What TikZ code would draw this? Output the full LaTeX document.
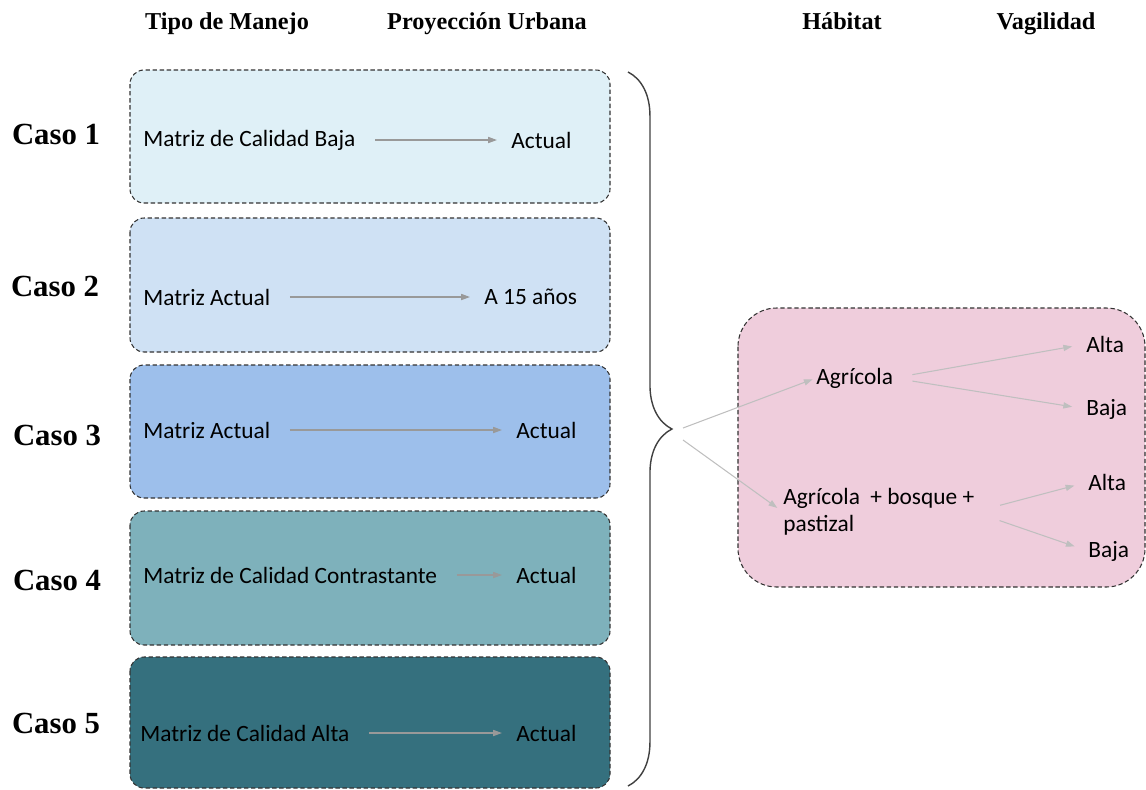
\documentclass[tikz,border=0pt]{standalone}
\usepackage{fontspec}
\setmainfont{Liberation Serif}
\newfontfamily\carlito{Carlito}
\usetikzlibrary{arrows.meta,decorations.pathreplacing}
\definecolor{caso1}{HTML}{DFF0F7}
\definecolor{caso2}{HTML}{CFE1F4}
\definecolor{caso3}{HTML}{9DBFEB}
\definecolor{caso4}{HTML}{7EB1BB}
\definecolor{caso5}{HTML}{35707E}
\definecolor{rosa}{HTML}{EFCDDC}
\begin{document}
\begin{tikzpicture}[x=0.02cm,y=-0.02cm,
    caja/.style={draw=black!80,dash pattern=on 2.5pt off 1.5pt,line width=0.6pt,rounded corners=8pt},
    titulo/.style={font=\bfseries\fontsize{13.8}{15}\selectfont,anchor=base},
    caso/.style={font=\bfseries\fontsize{17.5}{19}\selectfont,anchor=base},
    txt/.style={font=\carlito\fontsize{13.3}{15.5}\selectfont,inner sep=0pt,anchor=west},
    flecha/.style={draw=black!40,line width=0.6pt,-{Triangle[length=5pt,width=3.5pt]},shorten <=11pt,shorten >=8pt},
    flechab/.style={flecha,draw=black!25}]
  \useasboundingbox (0,0) rectangle (1146,789);
  % encabezados
  \node[titulo] (tm) at (227,29) {Tipo de Manejo};
  \node[titulo] (pu) at (487,29) {Proyección Urbana};
  \node[titulo] (hb) at (842,29) {Hábitat};
  \node[titulo] (vg) at (1046,29) {Vagilidad};
  % cajas de casos
  \draw[caja,fill=caso1] (130,70) rectangle (610,203);
  \draw[caja,fill=caso2] (130,218) rectangle (610,352);
  \draw[caja,fill=caso3] (130,365) rectangle (610,498);
  \draw[caja,fill=caso4] (130,511) rectangle (610,645);
  \draw[caja,fill=caso5] (130,657) rectangle (610,788);
  \node[caso] (c1) at (56,144) {Caso 1};
  \node[caso] (c2) at (55,296) {Caso 2};
  \node[caso] (c3) at (57,445) {Caso 3};
  \node[caso] (c4) at (57,590) {Caso 4};
  \node[caso] (c5) at (56,733) {Caso 5};
  \node[txt] (m1) at (143,140) {Matriz de Calidad Baja};
  \node[txt] (p1) at (511,140) {Actual};
  \node[txt] (m2) at (143,297) {Matriz Actual};
  \node[txt] (p2) at (484,297) {A 15 años};
  \node[txt] (m3) at (143,430) {Matriz Actual};
  \node[txt] (p3) at (516,430) {Actual};
  \node[txt] (m4) at (143,575) {Matriz de Calidad Contrastante};
  \node[txt] (p4) at (516,575) {Actual};
  \node[txt] (m5) at (140,733) {Matriz de Calidad Alta};
  \node[txt] (p5) at (516,733) {Actual};
  \foreach \i in {1,...,5}
    \draw[flecha] (m\i.east) -- (p\i.west);
  % llave
  \draw[decorate,decoration={brace,amplitude=25pt},black!75,line width=0.8pt] (628,72) -- (628,786);
  \coordinate (ll1) at (683,428);
  \coordinate (ll2) at (683,440);
  % habitat y vagilidad
  \draw[caja,fill=rosa,rounded corners=22pt] (738,308) rectangle (1145,587);
  \node[txt] (ag) at (816,378) {Agrícola};
  \node[txt,align=left] (abp) at (783,512) {Agrícola\ \ + bosque +\\pastizal};
  \node[txt] (al1) at (1086,344) {Alta};
  \node[txt] (ba1) at (1086,409) {Baja};
  \node[txt] (al2) at (1088,482) {Alta};
  \node[txt] (ba2) at (1088,551) {Baja};
  \draw[flechab,shorten <=0pt,shorten >=2pt] (ll1) -- (ag.west);
  \draw[flechab,shorten <=0pt,shorten >=4pt] (ll2) -- (abp.west);
  \draw[flechab] (ag.east) -- (al1.west);
  \draw[flechab] (ag.east) -- (ba1.west);
  \draw[flechab,shorten <=15pt] (abp.east) -- (al2.west);
  \draw[flechab,shorten <=15pt] (abp.east) -- (ba2.west);
\end{tikzpicture}
\end{document}
